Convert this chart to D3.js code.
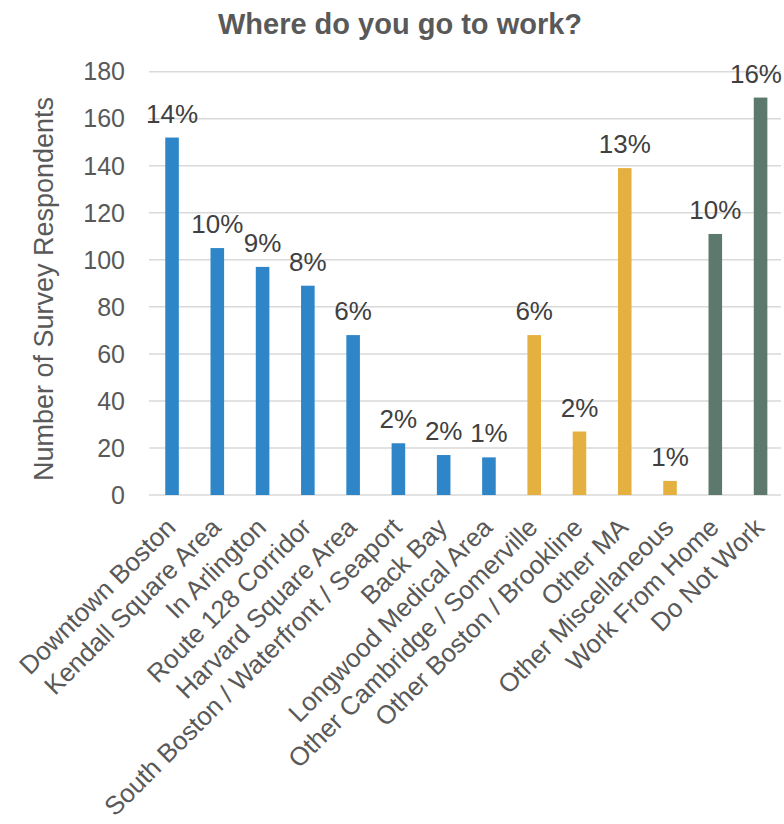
<!DOCTYPE html>
<html>
<head>
<meta charset="utf-8">
<script src="https://cdn.jsdelivr.net/npm/d3@7"></script>
<style>
  html, body { margin: 0; padding: 0; background: #fff; }
  text { font-family: "Liberation Sans", Arial, sans-serif; }
</style>
</head>
<body>
<svg id="chart" width="784" height="824"></svg>
<script>
const categories = ["Downtown Boston", "Kendall Square Area", "In Arlington", "Route 128 Corridor",
  "Harvard Square Area", "South Boston / Waterfront / Seaport", "Back Bay", "Longwood Medical Area",
  "Other Cambridge / Somerville", "Other Boston / Brookline", "Other MA", "Other Miscellaneous",
  "Work From Home", "Do Not Work"];
const values = [152, 105, 97, 89, 68, 22, 17, 16, 68, 27, 139, 6, 111, 169];
const percentLabels = ["14%", "10%", "9%", "8%", "6%", "2%", "2%", "1%", "6%", "2%", "13%", "1%", "10%", "16%"];
const groups = ["a", "a", "a", "a", "a", "a", "a", "a", "b", "b", "b", "b", "c", "c"];
const yTicks = [0, 20, 40, 60, 80, 100, 120, 140, 160, 180];
const title = "Where do you go to work?";
const yTitle = "Number of Survey Respondents";

const colors = { a: "#2E86C8", b: "#E4B140", c: "#5D786C" };

const svg = d3.select("#chart");
const x = d3.scaleBand().domain(categories).range([149.4, 783.2]).padding(0);
const y = d3.scaleLinear().domain([0, 180]).range([495, 71.7]);
const barW = x.bandwidth() * 0.3;

// gridlines
svg.append("g").selectAll("line").data(yTicks).join("line")
  .attr("x1", 149).attr("x2", 781)
  .attr("y1", d => y(d)).attr("y2", d => y(d))
  .attr("stroke", "#D9D9D9").attr("stroke-width", 1.5);

// y tick labels
svg.append("g").selectAll("text").data(yTicks).join("text")
  .attr("x", 125).attr("y", d => y(d)).attr("dy", "0.35em")
  .attr("text-anchor", "end").attr("font-size", 25).attr("fill", "#595959")
  .text(d => d);

// bars
svg.append("g").selectAll("rect").data(categories).join("rect")
  .attr("x", (d) => x(d) + x.bandwidth() / 2 - barW / 2)
  .attr("width", barW)
  .attr("y", (d, i) => y(values[i]))
  .attr("height", (d, i) => y(0) - y(values[i]))
  .attr("fill", (d, i) => colors[groups[i]]);

// percent labels
svg.append("g").selectAll("text").data(categories).join("text")
  .attr("x", d => x(d) + x.bandwidth() / 2)
  .attr("y", (d, i) => y(values[i]) - 15)
  .attr("text-anchor", "middle").attr("font-size", 26).attr("fill", "#404040")
  .text((d, i) => percentLabels[i])
  .each(function() {
    const w = this.getComputedTextLength();
    const cx = +this.getAttribute("x");
    if (cx + w / 2 > 782) this.setAttribute("x", 782 - w / 2);
  });

// x labels
svg.append("g").selectAll("text").data(categories).join("text")
  .attr("transform", d => `translate(${x(d) + x.bandwidth() / 2 + 5},529) rotate(-45)`)
  .attr("text-anchor", "end").attr("font-size", 25.8).attr("fill", "#595959")
  .text(d => d);

// y axis title
svg.append("text")
  .attr("transform", "translate(53,289) rotate(-90)")
  .attr("text-anchor", "middle").attr("font-size", 27).attr("fill", "#595959")
  .text(yTitle);

// title
svg.append("text")
  .attr("x", 400).attr("y", 34)
  .attr("text-anchor", "middle").attr("font-size", 29).attr("font-weight", "bold").attr("fill", "#595959")
  .text(title);
</script>
</body>
</html>
